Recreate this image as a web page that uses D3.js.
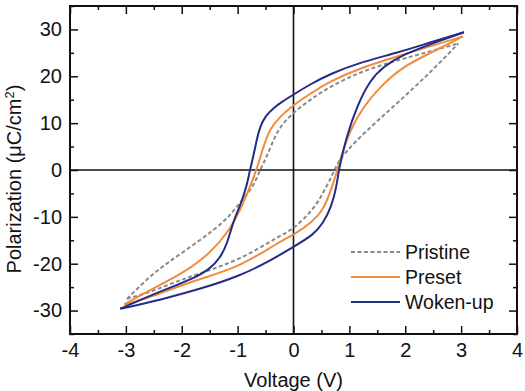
<!DOCTYPE html>
<html><head><meta charset="utf-8">
<script src="https://cdn.jsdelivr.net/npm/d3@7"></script>
<style>body{margin:0;background:#fff}svg{display:block}text{font-family:"Liberation Sans",Arial,sans-serif;fill:#111}</style>
</head><body><svg id="c" width="525" height="391"></svg>
<script>
const seriesNames = ["Pristine", "Preset", "Woken-up"];
const seriesColors = ["#8a8a8a", "#f08c3e", "#232c86"];
const xTicks = [-4,-3,-2,-1,0,1,2,3,4];
const yTicks = [-30,-20,-10,0,10,20,30];

// each branch listed with voltage ascending
const pristineLower = [[-2.98,-27.5],[-2.6,-26.2],[-2.27,-24.6],[-1.67,-22],[-0.96,-19.2],[-0.24,-14],[0,-12.6],[0.35,-8.5],[0.53,-5],[0.71,-0.7],[0.8,1.8],[0.95,4],[1.25,7.8],[1.85,14.2],[2.44,20.7],[2.95,27]];
const pristineUpper = [[-2.98,-27.5],[-2.6,-23],[-2.27,-19.9],[-1.67,-15],[-1.2,-10.7],[-0.96,-7],[-0.72,-3.6],[-0.6,0],[-0.48,2.8],[-0.36,6.4],[-0.24,9.3],[0,12.3],[0.3,15],[0.65,17.8],[1.2,21],[1.85,23.4],[2.44,25.3],[2.95,27]];
const presetLower = [[-3.03,-28.7],[-2.6,-27.3],[-2.27,-25.8],[-1.67,-23.2],[-0.96,-20.7],[-0.24,-15.2],[0,-13.9],[0.35,-11],[0.53,-8.5],[0.65,-5],[0.77,-0.7],[0.83,2.1],[1.01,8.5],[1.25,13.5],[1.55,17.8],[1.96,22.1],[2.44,24.9],[3.03,28.5]];
const presetUpper = [[-3.03,-28.7],[-2.57,-25.6],[-1.97,-22],[-1.49,-17.8],[-1.14,-12.8],[-0.95,-8.5],[-0.78,-3.6],[-0.66,0],[-0.54,5],[-0.42,8.9],[-0.24,11.4],[0,13.9],[0.3,16.3],[0.65,18.9],[1.2,21.8],[1.85,24.2],[2.44,26.4],[3.03,28.5]];
const wokenLower = [[-3.1,-29.6],[-2.7,-28.6],[-2.27,-27.3],[-1.67,-25.4],[-0.96,-22.6],[-0.45,-19.6],[0,-16.4],[0.35,-13.9],[0.53,-11.4],[0.68,-7.8],[0.77,-3.6],[0.81,0],[0.87,3],[0.95,7.1],[1.13,13.5],[1.37,19.2],[1.61,22.1],[1.96,24.6],[2.44,26.8],[3.05,29.4]];
const wokenUpper = [[-3.1,-29.6],[-2.7,-27.5],[-2.27,-25.4],[-1.8,-23.2],[-1.5,-21.2],[-1.3,-18.6],[-1.18,-15.5],[-1.08,-11],[-0.95,-7.5],[-0.84,-3.6],[-0.78,0],[-0.72,2.8],[-0.66,6.4],[-0.6,9.2],[-0.5,11.6],[-0.35,13.3],[-0.2,14.6],[0,16.1],[0.3,18.3],[0.65,20.5],[1.2,23],[1.85,25],[2.44,27.2],[3.05,29.4]];
const allBranches = [[pristineLower, pristineUpper],[presetLower, presetUpper],[wokenLower, wokenUpper]];

const svg = d3.select("#c");
const L=70, R=517, T=6, B=334;
const x = d3.scaleLinear().domain([-4,4]).range([L,R]);
const y = d3.scaleLinear().domain([-35,35]).range([B,T]);

const minorX = d3.range(-3.5,4,1);
const minorY = d3.range(-35,36,5).filter(v=>v%10!==0);
const FONT = "Liberation Sans, Arial, sans-serif";

function styleTicks(g){g.select(".domain").remove();g.selectAll("line").attr("stroke","#111").attr("stroke-width",1.5);}
function styleLabels(g){g.selectAll("text").attr("font-size",20).attr("fill","#111").style("font-family",FONT);}

svg.append("g").attr("transform",`translate(0,${B})`)
  .call(d3.axisBottom(x).tickValues(xTicks).tickSizeInner(-8).tickSizeOuter(0).tickPadding(9).tickFormat(d=>String(d)))
  .call(styleTicks).call(styleLabels);
svg.append("g").attr("transform",`translate(0,${B})`)
  .call(d3.axisBottom(x).tickValues(minorX).tickSizeInner(-4).tickSizeOuter(0).tickFormat("")).call(styleTicks);
svg.append("g").attr("transform",`translate(0,${T})`)
  .call(d3.axisTop(x).tickValues(xTicks).tickSizeInner(-8).tickSizeOuter(0).tickFormat("")).call(styleTicks);
svg.append("g").attr("transform",`translate(0,${T})`)
  .call(d3.axisTop(x).tickValues(minorX).tickSizeInner(-4).tickSizeOuter(0).tickFormat("")).call(styleTicks);

svg.append("g").attr("transform",`translate(${L},0)`)
  .call(d3.axisLeft(y).tickValues(yTicks).tickSizeInner(-8).tickSizeOuter(0).tickPadding(8).tickFormat(d=>String(d)))
  .call(styleTicks).call(styleLabels);
svg.append("g").attr("transform",`translate(${L},0)`)
  .call(d3.axisLeft(y).tickValues(minorY).tickSizeInner(-4).tickSizeOuter(0).tickFormat("")).call(styleTicks);
svg.append("g").attr("transform",`translate(${R},0)`)
  .call(d3.axisRight(y).tickValues(yTicks).tickSizeInner(-8).tickSizeOuter(0).tickFormat("")).call(styleTicks);
svg.append("g").attr("transform",`translate(${R},0)`)
  .call(d3.axisRight(y).tickValues(minorY).tickSizeInner(-4).tickSizeOuter(0).tickFormat("")).call(styleTicks);

// zero lines
svg.append("line").attr("x1",L).attr("x2",R).attr("y1",y(0)).attr("y2",y(0)).attr("stroke","#111").attr("stroke-width",1.6);
svg.append("line").attr("x1",x(0)).attr("x2",x(0)).attr("y1",T).attr("y2",B).attr("stroke","#111").attr("stroke-width",1.6);

// curves
const line = d3.line().x(d=>x(d[0])).y(d=>y(d[1])).curve(d3.curveBasis);
allBranches.forEach((br,i)=>{
  br.forEach(s=>{
    svg.append("path").datum(s).attr("d",line).attr("fill","none")
      .attr("stroke",seriesColors[i]).attr("stroke-width",2)
      .attr("stroke-dasharray", i===0 ? "4,2.5" : null);
  });
});

// frame
svg.append("rect").attr("x",L).attr("y",T).attr("width",R-L).attr("height",B-T).attr("fill","none").attr("stroke","#111").attr("stroke-width",2);

// legend
const legY = [252,277,302];
seriesNames.forEach((n,i)=>{
  svg.append("line").attr("x1",351).attr("x2",400).attr("y1",legY[i]).attr("y2",legY[i])
    .attr("stroke",seriesColors[i]).attr("stroke-width",2).attr("stroke-dasharray", i===0 ? "4,2.5" : null);
  svg.append("text").attr("x",405).attr("y",legY[i]+7).attr("font-size",19.5).text(n);
});

// axis titles
svg.append("text").attr("x",x(0)).attr("y",387).attr("text-anchor","middle").attr("font-size",20).text("Voltage (V)");
const yt = svg.append("text").attr("transform",`translate(21,179) rotate(-90)`).attr("text-anchor","middle").attr("font-size",20);
yt.append("tspan").text("Polarization (\u03BCC/cm");
yt.append("tspan").attr("dy",-7).attr("font-size",13).text("2");
yt.append("tspan").attr("dy",7).text(")");
</script></body></html>
